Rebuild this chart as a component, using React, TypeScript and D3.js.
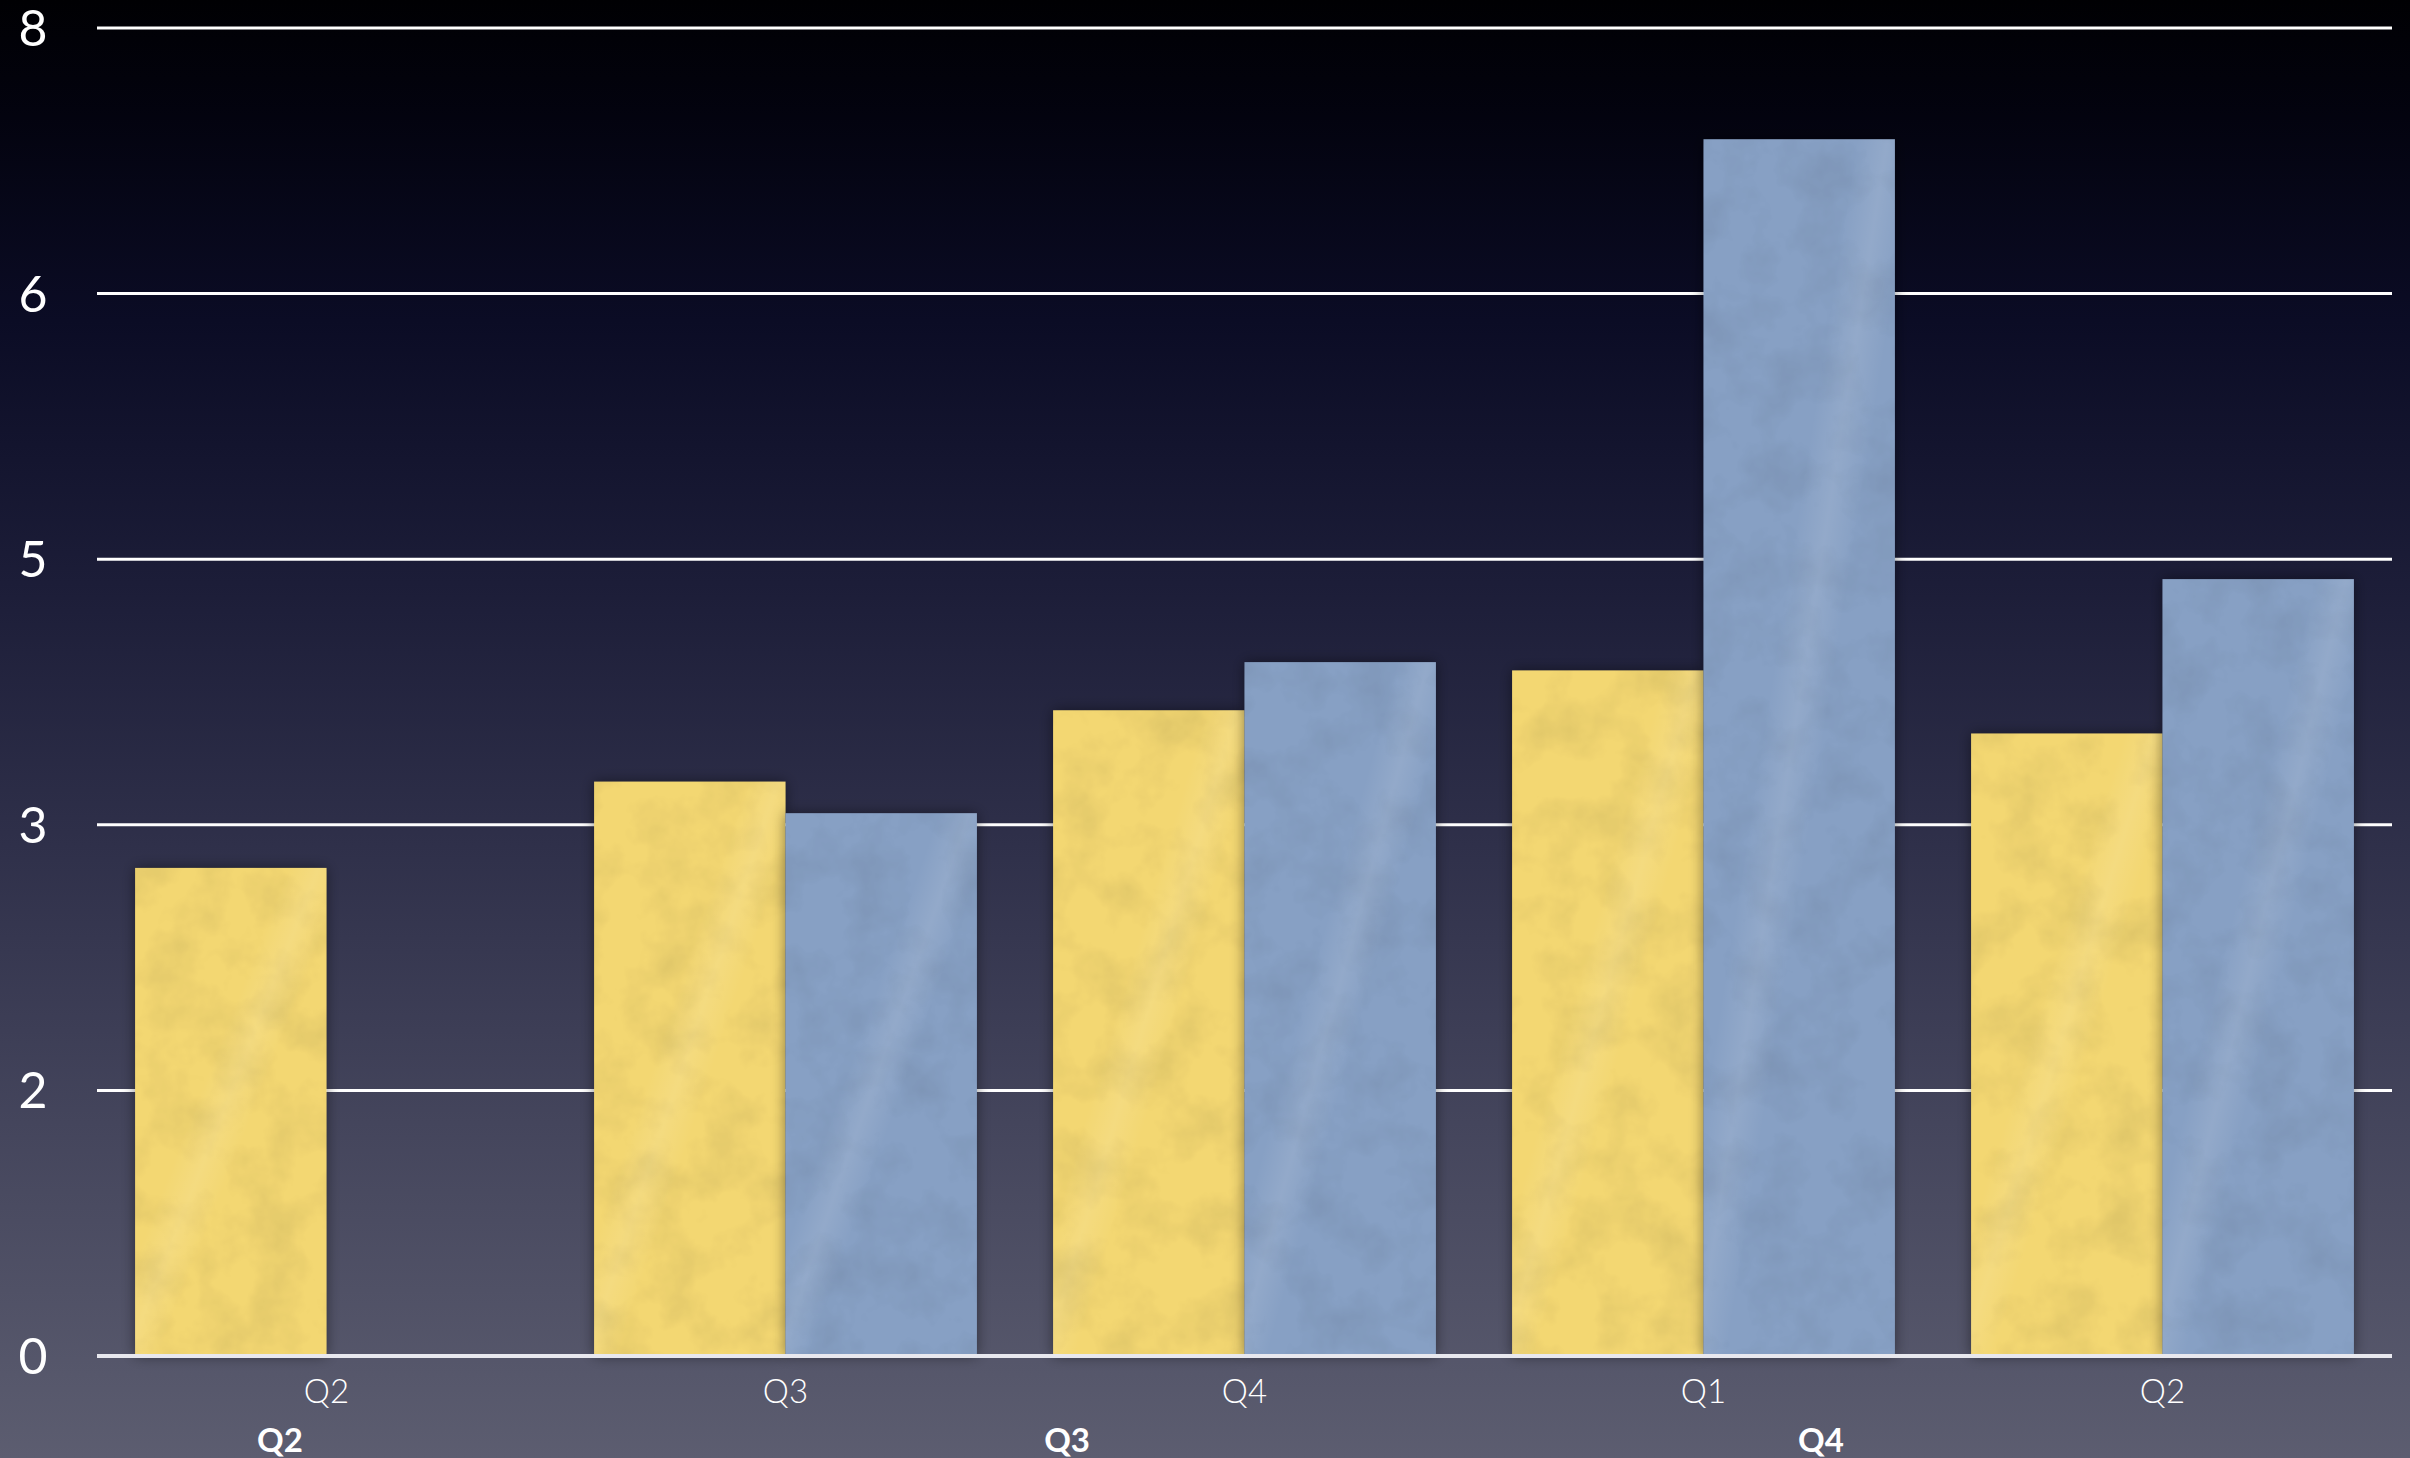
import React from "react";
import * as d3 from "d3";

const categories = ["Q2", "Q3", "Q4", "Q1", "Q2"];
const seriesYellow = [2.94, 3.46, 3.89, 4.13, 3.75];
const seriesBlue: (number | null)[] = [null, 3.27, 4.18, 7.33, 4.68];
const yTickValues = [0, 1.6, 3.2, 4.8, 6.4, 8];
const groupLabels = ["Q2", "Q3", "Q4"];

const W = 2410;
const H = 1458;
const margin = { left: 97, right: 18, top: 28, bottom: 102 };

export default function App() {
  const x = d3
    .scaleBand<number>()
    .domain(d3.range(categories.length))
    .range([margin.left, W - margin.right])
    .paddingInner(0.166)
    .paddingOuter(0.083);
  const y = d3.scaleLinear().domain([0, 8]).range([H - margin.bottom, margin.top]);
  const sub = d3
    .scaleBand<string>()
    .domain(["yellow", "blue"])
    .range([0, x.bandwidth()]);
  const fmt = d3.format(".0f");
  const x0 = margin.left;
  const plotW = W - margin.right - margin.left;
  const groupFrac = [0.0797, 0.4227, 0.7512];

  return (
    <svg
      width={W}
      height={H}
      style={{ position: "absolute", left: 0, top: 0, display: "block" }}
      fontFamily="Lato, 'Open Sans', sans-serif"
    >
      <defs>
        <linearGradient id="bg" x1="0" y1="0" x2="0" y2="1">
          <stop offset="0%" stopColor="#000003" />
          <stop offset="8%" stopColor="#03030f" />
          <stop offset="22%" stopColor="#0b0c25" />
          <stop offset="40%" stopColor="#1c1d38" />
          <stop offset="58%" stopColor="#2f304a" />
          <stop offset="77%" stopColor="#44455c" />
          <stop offset="100%" stopColor="#5c5d70" />
        </linearGradient>
        <filter id="shadow" x="-20%" y="-10%" width="140%" height="120%">
          <feDropShadow dx="0" dy="0" stdDeviation="7" floodColor="#000" floodOpacity="0.45" />
        </filter>
        <filter id="tex" x="0" y="0" width="100%" height="100%">
          <feTurbulence type="fractalNoise" baseFrequency="0.02" numOctaves="4" seed="7" result="n" />
          <feColorMatrix
            in="n"
            type="matrix"
            values="0 0 0 0 0  0 0 0 0 0  0 0 0 0 0  0 0 0 -1.0 0.6"
          />
        </filter>
        <linearGradient id="shine" x1="0" y1="0" x2="1" y2="1">
          <stop offset="0%" stopColor="#fff" stopOpacity="0" />
          <stop offset="40%" stopColor="#fff" stopOpacity="0" />
          <stop offset="48%" stopColor="#fff" stopOpacity="0.1" />
          <stop offset="56%" stopColor="#fff" stopOpacity="0" />
          <stop offset="100%" stopColor="#fff" stopOpacity="0" />
        </linearGradient>
      </defs>
      <rect x={0} y={0} width={W} height={H} fill="url(#bg)" />

      {yTickValues.map((t, i) => (
        <g key={i}>
          <line
            x1={margin.left}
            x2={W - margin.right}
            y1={y(t)}
            y2={y(t)}
            stroke="#ffffff"
            strokeWidth={3}
          />
          <text
            x={33}
            y={y(t) + 18}
            fill="#ffffff"
            fontSize={50}
            textAnchor="middle"
          >
            {fmt(t)}
          </text>
        </g>
      ))}

      {categories.map((c, i) => {
        const gx = x(i)!;
        const bars: { key: string; v: number | null; color: string; tex: string; texOp: number }[] = [
          { key: "yellow", v: seriesYellow[i], color: "#f3d772", tex: "#b89a30", texOp: 0.14 },
          { key: "blue", v: seriesBlue[i], color: "#87a0c4", tex: "#4a6a9a", texOp: 0.12 },
        ];
        return (
          <g key={i}>
            {bars.map((b) =>
              b.v == null ? null : (
                <g key={b.key}>
                  <rect
                    x={gx + sub(b.key)!}
                    y={y(b.v)}
                    width={sub.bandwidth()}
                    height={y(0) - y(b.v)}
                    fill={b.color}
                    filter="url(#shadow)"
                  />
                  <rect
                    x={gx + sub(b.key)!}
                    y={y(b.v)}
                    width={sub.bandwidth()}
                    height={y(0) - y(b.v)}
                    fill={b.tex}
                    opacity={b.texOp}
                    filter="url(#tex)"
                  />
                  <rect
                    x={gx + sub(b.key)!}
                    y={y(b.v)}
                    width={sub.bandwidth()}
                    height={y(0) - y(b.v)}
                    fill="url(#shine)"
                  />
                </g>
              )
            )}
          </g>
        );
      })}

      <line
        x1={margin.left}
        x2={W - margin.right}
        y1={y(0)}
        y2={y(0)}
        stroke="#e8e8ee"
        strokeWidth={4}
      />

      {categories.map((c, i) => (
        <text
          key={i}
          x={x(i)! + x.bandwidth() / 2}
          y={1390}
          fill="#ffffff"
          fontSize={33}
          fontWeight={300}
          textAnchor="middle"
          dominantBaseline="central"
        >
          {c}
        </text>
      ))}

      {groupLabels.map((g, i) => (
        <text
          key={i}
          x={x0 + groupFrac[i] * plotW}
          y={1439}
          fill="#ffffff"
          fontSize={33}
          fontWeight={700}
          textAnchor="middle"
          dominantBaseline="central"
        >
          {g}
        </text>
      ))}
    </svg>
  );
}
